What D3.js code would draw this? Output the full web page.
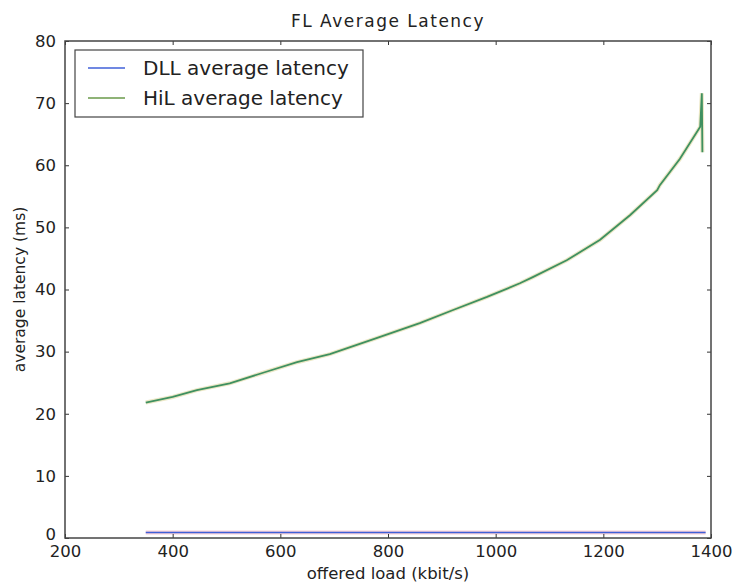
<!DOCTYPE html>
<html><head><meta charset="utf-8">
<script src="https://cdn.jsdelivr.net/npm/d3@7"></script>
<style>body{margin:0;background:#fff}text{font-family:"DejaVu Sans",sans-serif;fill:#222}</style>
</head><body><svg id="c" width="734" height="583"></svg>
<script>
const xTicks = [200,400,600,800,1000,1200,1400];
const yTicks = [0,10,20,30,40,50,60,70,80];
const hilLoad = [350,400,445,506,568,631,692,780,859,921,984,1045,1069,1132,1194,1250,1300,1305,1342,1380,1383,1384];
const hilLatency = [21.8,22.7,23.8,24.9,26.6,28.3,29.6,32.2,34.6,36.7,38.8,41.0,42.0,44.7,48.0,52.0,56.0,56.8,61.0,66.2,71.6,62.1];
const dllLoad = [350,1390];
const dllLatency = [0.9,0.9];

const svg = d3.select("#c");
const m = {l:65,r:711,t:41,b:538};
const x = d3.scaleLinear().domain([200,1400]).range([m.l,m.r]);
const y = d3.scaleLinear().domain([0,80]).range([m.b,m.t]);

// lines
const line = d3.line().x(d=>x(d[0])).y(d=>y(d[1]));
svg.append("path").datum(hilLoad.map((v,i)=>[v,hilLatency[i]]))
  .attr("d",line).attr("fill","none").attr("stroke","#d8d08a").attr("stroke-width",4).attr("opacity",0.5);
svg.append("path").datum(hilLoad.map((v,i)=>[v,hilLatency[i]]))
  .attr("d",line).attr("fill","none").attr("stroke","#3f9060").attr("stroke-width",1.8);
svg.append("path").datum(dllLoad.map((v,i)=>[v,dllLatency[i]]))
  .attr("d",line).attr("fill","none").attr("stroke","#f0a0b0").attr("stroke-width",4).attr("opacity",0.5);
svg.append("path").datum(dllLoad.map((v,i)=>[v,dllLatency[i]]))
  .attr("d",line).attr("fill","none").attr("stroke","#4060d8").attr("stroke-width",1.5);

// axes (ticks inside)
const ax = (g)=>g.selectAll(".domain").remove();
svg.append("g").attr("transform",`translate(0,${m.b})`)
  .call(d3.axisBottom(x).tickValues(xTicks).tickSize(-4).tickPadding(7).tickFormat(d3.format("d")))
  .call(ax).call(g=>g.selectAll("text").attr("font-size",16.5).attr("fill","#222"));
svg.append("g").attr("transform",`translate(0,${m.t})`)
  .call(d3.axisTop(x).tickValues(xTicks).tickSize(-4).tickFormat(""))
  .call(ax);
svg.append("g").attr("transform",`translate(${m.l},0)`)
  .call(d3.axisLeft(y).tickValues(yTicks).tickSize(-4).tickPadding(9).tickFormat(d3.format("d")))
  .call(ax).call(g=>g.selectAll("text").attr("font-size",16.5).attr("fill","#222")
    .filter(d=>d===0).attr("dy","0.1em"));
svg.append("g").attr("transform",`translate(${m.r},0)`)
  .call(d3.axisRight(y).tickValues(yTicks).tickSize(-4).tickFormat(""))
  .call(ax);
svg.selectAll(".tick line").attr("stroke","#333");
svg.append("rect").attr("x",m.l).attr("y",m.t).attr("width",m.r-m.l).attr("height",m.b-m.t)
  .attr("fill","none").attr("stroke","#444").attr("stroke-width",1.5);

// title & labels
svg.append("text").attr("x",(m.l+m.r)/2).attr("y",27).attr("text-anchor","middle").attr("font-size",17).attr("letter-spacing",1.5).text("FL Average Latency");
svg.append("text").attr("x",(m.l+m.r)/2).attr("y",579).attr("text-anchor","middle").attr("font-size",16.5).text("offered load (kbit/s)");
svg.append("text").attr("transform",`translate(25,${(m.t+m.b)/2}) rotate(-90)`).attr("text-anchor","middle").attr("font-size",15.5).text("average latency (ms)");

// legend
const lg = svg.append("g");
lg.append("rect").attr("x",75).attr("y",50).attr("width",288).attr("height",67).attr("fill","#fff").attr("stroke","#444").attr("stroke-width",1.2);
const items = [["DLL average latency","#4060d8",68],["HiL average latency","#6a9a4a",98]];
items.forEach(([t,c,yy])=>{
  lg.append("line").attr("x1",88).attr("x2",125).attr("y1",yy).attr("y2",yy).attr("stroke",c).attr("stroke-width",1.5);
  lg.append("text").attr("x",143).attr("y",yy+7).attr("font-size",20).text(t);
});
</script></body></html>
